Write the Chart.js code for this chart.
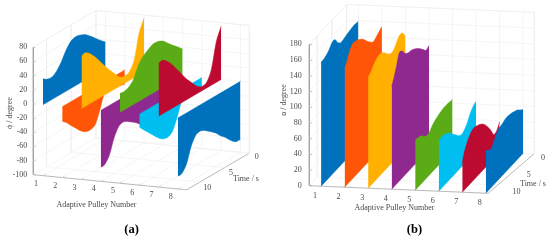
<!DOCTYPE html>
<html>
<head>
<meta charset="utf-8">
<style>
  html, body { margin: 0; padding: 0; background: #fff; }
  .panel { position: absolute; top: 0; width: 275px; height: 242px; }
  #panel-a { left: 0; }
  #panel-b { left: 275px; }
</style>
<script src="https://cdn.jsdelivr.net/npm/chart.js@4/dist/chart.umd.min.js"></script>
</head>
<body>
<div class="panel" id="panel-a"><canvas id="chart-a" width="275" height="242"></canvas></div>
<div class="panel" id="panel-b"><canvas id="chart-b" width="275" height="242"></canvas></div>
<script>
const times = [12.7, 12, 11, 10, 9, 8, 7, 6, 5, 4, 3, 2, 1, 0];
const pulleys = [1, 2, 3, 4, 5, 6, 7, 8];
const timeTicks = [0, 5, 10];
const phiTicks = [80, 60, 40, 20, 0, -20, -40, -60, -80, -100];
const alphaTicks = [180, 160, 140, 120, 100, 80, 60, 40, 20, 0];

const colors = ['#0072BD', '#FF5506', '#FFB000', '#90298F', '#5BAB16', '#00BFF0', '#BC0A30', '#0072BD'];

// angle of each pulley over time (a)
const phi1 = [36.7, 33, 31.5, 35.7, 45, 58, 66.7, 69, 67, 63.4, 57, 50, 43, 36.7];
const phi2 = [-20.7, -25, -33, -41, -49, -54.5, -56, -52.6, -34, -14, -12, -15, -18, -20];
const phi3 = [73.8, 75.6, 70.5, 62, 51.7, 41, 31, 22, 13, 10, 12, 25, 59, 76];
const phi4 = [-80, -80, -71, -50, -37, -35, -39, -44, -50, -58, -65, -72, -78, -80];
const phi5 = [27, 26, 28, 35, 51, 60, 65, 69, 68.6, 65, 58, 51, 44.6, 37.6];
const phi6 = [-18, -24, -32, -40, -48, -54, -56, -52, -35, -15, -11, -11, -12, -14];
const phi7 = [74, 75.7, 70.5, 62, 51, 40, 29, 20, 11, 6, 7.5, 22, 57, 75];
const phi8 = [-82, -82, -73, -51, -38.5, -37, -41, -46.5, -52.6, -60.6, -67, -75, -81, -82];

// angle of each pulley over time (b)
const alpha1 = [158, 158, 159.6, 162.6, 168, 168, 160, 156, 156.6, 158, 159, 160, 160, 159];
const alpha2 = [151.5, 155.8, 166, 171.5, 171, 169, 165.5, 161, 155, 150, 146, 148, 151, 153.6];
const alpha3 = [141.8, 143, 148.5, 152.8, 154.5, 153.6, 149.4, 144, 140.5, 141, 147, 152, 150.7, 141.8];
const alpha4 = [131, 138, 151, 164, 161, 154, 151, 150, 147.7, 144.3, 140, 135, 130, 132];
const alpha5 = [63.7, 63, 62, 58, 54, 54, 58.6, 61.5, 63.7, 65, 66, 66, 65.4, 65];
const alpha6 = [62.8, 65, 65, 62.4, 59.4, 54, 49, 43.7, 41, 43, 48, 56, 61, 63.7];
const alpha7 = [37.8, 48, 57, 63, 66, 65, 63, 60, 55, 48, 40, 30.5, 31, 38.6];
const alpha8 = [54, 52, 49, 54, 61.5, 65, 66, 68, 68, 67, 65, 63, 59, 55.6];

const serif = '"Liberation Serif", serif';
const tickColor = '#4a4a4a';
const gridColor = '#eeeeee';
const axisColor = '#9a9a9a';

// простая проекция 3D в координаты панели
function makeProjection(view) {
  return (p, t, v) => {
    const u = view.tMax - t;
    return {
      x: view.x0 + (p - view.pMin) * view.px + u * view.tx,
      y: view.y0 + (p - view.pMin) * view.py - u * view.ty - v * view.vs,
    };
  };
}

function lineDataset(points, color, width) {
  return {
    data: points,
    showLine: true,
    borderColor: color,
    borderWidth: width,
    pointRadius: 0,
    fill: false,
    tension: 0,
  };
}

function buildPanel(canvasId, view, series, zTicks, texts) {
  const project = makeProjection(view);
  const datasets = [];

  // ribbons, last pulley first so that it is painted on top
  for (let i = pulleys.length - 1; i >= 0; i--) {
    const p = pulleys[i];
    const curve = lineDataset(times.map((t, k) => project(p, t, series[i][k])), colors[i], 0.5);
    curve.tension = 0.3;
    curve.fill = { target: '+1' };
    curve.backgroundColor = colors[i];
    datasets.push(curve);
    datasets.push(lineDataset([project(p, view.tMax, 0), project(p, 0, 0)], colors[i], 0.5));
  }

  const floor = view.vMin;
  const top = view.vMax;
  const backEnd = view.pMaxBack;

  // box edges and grid
  pulleys.forEach(p => {
    datasets.push(lineDataset([project(p, view.tMax, floor), project(p, 0, floor), project(p, 0, top)], gridColor, 0.6));
  });
  timeTicks.forEach(t => {
    datasets.push(lineDataset([project(view.pMin, t, top), project(view.pMin, t, floor), project(view.pMax, t, floor)], gridColor, 0.6));
  });
  zTicks.forEach(v => {
    datasets.push(lineDataset([project(view.pMin, view.tMax, v), project(view.pMin, 0, v), project(backEnd, 0, v)], gridColor, 0.6));
  });
  datasets.push(lineDataset([project(view.pMin, view.tMax, top), project(view.pMin, 0, top), project(backEnd, 0, top)], gridColor, 0.6));
  datasets.push(lineDataset([project(backEnd, 0, top), project(backEnd, 0, floor)], gridColor, 0.6));

  datasets.push(lineDataset([project(view.pMin, view.tMax, top), project(view.pMin, view.tMax, floor), project(view.pMax, view.tMax, floor), project(backEnd, 0, floor)], axisColor, 0.7));
  zTicks.forEach(v => {
    datasets.push(lineDataset([project(view.pMin, view.tMax, v), project(view.pMin + 0.12, view.tMax, v)], axisColor, 0.6));
  });
  pulleys.forEach(p => {
    datasets.push(lineDataset([project(p, view.tMax, floor), project(p, view.tMax - 0.5, floor)], axisColor, 0.6));
  });

  const labels = [];
  zTicks.forEach(v => {
    const pos = project(view.pMin, view.tMax, v);
    labels.push({ text: String(v), x: pos.x - view.zGap, y: pos.y, align: 'right', font: '8px ' + serif, color: tickColor });
  });
  pulleys.forEach(p => {
    const pos = project(p, view.tMax, floor);
    labels.push({ text: String(p), x: pos.x + view.pulleyDx, y: pos.y + view.pulleyDy, align: 'center', font: '8px ' + serif, color: tickColor });
  });
  // time labels are left aligned and follow their own slope
  timeTicks.forEach(t => {
    labels.push({ text: String(t), x: view.timeX + t * view.timeStepX, y: view.timeY + t * view.timeStepY, align: 'left', font: '8px ' + serif, color: tickColor });
  });

  const textPlugin = {
    id: 'panelText',
    afterDatasetsDraw(chart) {
      const { ctx, scales } = chart;
      ctx.save();
      ctx.textBaseline = 'middle';
      labels.concat(texts).forEach(l => {
        ctx.save();
        ctx.translate(scales.x.getPixelForValue(l.x), scales.y.getPixelForValue(l.y));
        if (l.rotate) ctx.rotate(l.rotate);
        ctx.font = l.font;
        ctx.fillStyle = l.color;
        ctx.textAlign = l.align;
        ctx.fillText(l.text, 0, 0);
        ctx.restore();
      });
      ctx.restore();
    },
  };

  return new Chart(document.getElementById(canvasId), {
    type: 'scatter',
    data: { datasets },
    plugins: [textPlugin],
    options: {
      responsive: false,
      animation: false,
      layout: { padding: 0 },
      plugins: { legend: { display: false }, tooltip: { enabled: false } },
      scales: {
        x: { type: 'linear', display: false, min: 0, max: 275 },
        y: { type: 'linear', display: false, min: 0, max: 242, reverse: true },
      },
    },
  });
}

const viewA = {
  x0: 33.3, y0: 103.8, px: 19.27, py: 1.9, tx: 4.93, ty: 2.89, vs: 0.709,
  pMin: 0.5, pMax: 8.46, pMaxBack: 8.46, tMax: 12.7, vMin: -100, vMax: 80,
  zGap: 6, pulleyDx: -7, pulleyDy: 8,
  timeX: 254.7, timeY: 157.3, timeStepX: -5.14, timeStepY: 3.1,
};
const viewB = {
  x0: 34.3, y0: 185.7, px: 23.53, py: 1, tx: 2.94, ty: 3.15, vs: 0.785,
  pMin: 0.5, pMax: 8.1, pMaxBack: 8.47, tMax: 12.7, vMin: 0, vMax: 180,
  zGap: 7.5, pulleyDx: -6, pulleyDy: 10,
  timeX: 266, timeY: 158, timeStepX: -2.85, timeStepY: 3.4,
};

const textsA = [
  { text: 'Adaptive Pulley Number', x: 96.5, y: 204.5, align: 'center', font: '8px ' + serif, color: tickColor },
  { text: 'Time / s', x: 246, y: 178.5, align: 'center', font: '8px ' + serif, color: tickColor },
  { text: 'ϕ / degree', x: 9.5, y: 113, align: 'center', font: '8px ' + serif, color: tickColor, rotate: -Math.PI / 2 },
  { text: '(a)', x: 131.5, y: 230, align: 'center', font: 'bold 12.5px ' + serif, color: '#000' },
];
const textsB = [
  { text: 'Adaptive Pulley Number', x: 119.5, y: 208, align: 'center', font: '8px ' + serif, color: tickColor },
  { text: 'Time / s', x: 258, y: 184, align: 'center', font: '8px ' + serif, color: tickColor },
  { text: 'α / degree', x: 8.5, y: 100, align: 'center', font: '8px ' + serif, color: tickColor, rotate: -Math.PI / 2 },
  { text: '(b)', x: 139.5, y: 230, align: 'center', font: 'bold 12.5px ' + serif, color: '#000' },
];

buildPanel('chart-a', viewA, [phi1, phi2, phi3, phi4, phi5, phi6, phi7, phi8], phiTicks, textsA);
buildPanel('chart-b', viewB, [alpha1, alpha2, alpha3, alpha4, alpha5, alpha6, alpha7, alpha8], alphaTicks, textsB);
</script>
</body>
</html>
